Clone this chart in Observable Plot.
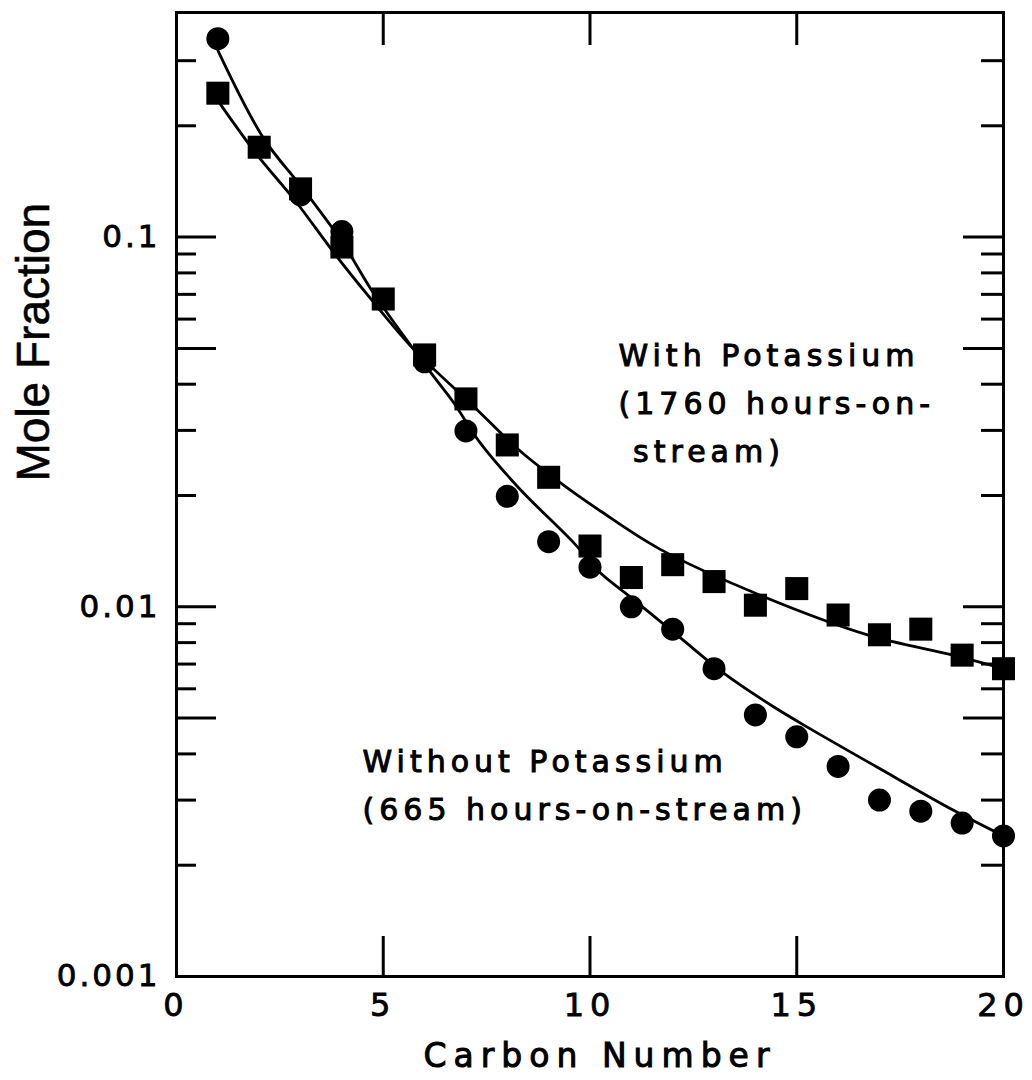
<!DOCTYPE html>
<html>
<head>
<meta charset="utf-8">
<script src="https://cdn.jsdelivr.net/npm/d3@7"></script>
<script src="https://cdn.jsdelivr.net/npm/@observablehq/plot@0.6"></script>
<style>
  body { margin: 0; background: #fff; }
  #chart svg { display: block; }
  #chart svg text { letter-spacing: 5px; stroke: #000; stroke-width: 1px; }
</style>
</head>
<body>
<div id="chart"></div>
<script>
// ---- data ----
const carbonNumbers = [1, 2, 3, 4, 5, 6, 7, 8, 9, 10, 11, 12, 13, 14, 15, 16, 17, 18, 19, 20];
// With potassium (squares)
const withPotassium = [0.245, 0.175, 0.135, 0.094, 0.068, 0.048, 0.0365, 0.0274, 0.0224, 0.0146,
  0.0120, 0.0130, 0.0117, 0.0101, 0.0112, 0.0095, 0.0084, 0.0087, 0.0074, 0.0068];
// Without potassium (circles); null where hidden behind a square
const withoutPotassium = [0.344, null, 0.130, 0.1035, null, 0.046, 0.0299, 0.0199, 0.0150, 0.0128,
  0.0100, 0.0087, 0.0068, 0.0051, 0.00445, 0.0037, 0.0030, 0.0028, 0.0026, 0.0024];
// fitted curves
const withCurveX = [1, 1.93, 2.88, 3.84, 4.62, 5.74, 7.17, 8.29, 9.32, 10.27, 11.7, 14.16, 16.71, 18.78, 20];
const withCurveY = [0.234, 0.168, 0.125, 0.0897, 0.0698, 0.0497, 0.035, 0.0265, 0.0215, 0.0181, 0.0143, 0.0107, 0.0084, 0.0074, 0.0068];
const withoutCurveX = [1, 2.1, 3.05, 4.0, 4.79, 6.15, 6.7, 7.34, 8.29, 9.63, 10.2, 10.99, 12.18, 13.2, 14.4, 15.35, 16.95, 18.78, 20];
const withoutCurveY = [0.32, 0.1855, 0.1355, 0.0972, 0.0698, 0.043, 0.0357, 0.0278, 0.0209, 0.0148, 0.0125, 0.0106, 0.00825, 0.00666, 0.0054, 0.00466, 0.00368, 0.00282, 0.0024];

const xTickValues = [0, 5, 10, 15, 20];
const xInnerTicks = [5, 10, 15];
const yLabelTicks = [0.001, 0.01, 0.1];
const yLabelTexts = ["0.001", "0.01", "0.1"];
const yLongTicks = [0.005, 0.01, 0.05, 0.1];
const yShortTicks = [0.002, 0.003, 0.004, 0.006, 0.007, 0.008, 0.009,
  0.02, 0.03, 0.04, 0.06, 0.07, 0.08, 0.09, 0.2, 0.3];

const xLabel = "Carbon Number";
const yLabel = "Mole Fraction";
const withLabel = "With Potassium\n(1760 hours-on-\n\u00a0stream)";
const withoutLabel = "Without Potassium\n(665 hours-on-stream)";

// ---- tables ----
const squares = carbonNumbers.map((c, i) => ({c, v: withPotassium[i]}));
const circles = carbonNumbers.map((c, i) => ({c, v: withoutPotassium[i]})).filter(d => d.v != null);
const withCurve = withCurveX.map((c, i) => ({c, v: withCurveY[i]}));
const withoutCurve = withoutCurveX.map((c, i) => ({c, v: withoutCurveY[i]}));

const W = 1032, H = 1080;
const mL = 176, mR = 29, mT = 12, mB = 104;
const pw = W - mL - mR, ph = H - mT - mB;

const font = "DejaVu Sans";

const chart = Plot.plot({
  width: W, height: H,
  marginLeft: mL, marginRight: mR, marginTop: mT, marginBottom: mB,
  style: {fontFamily: font, background: "#fff", color: "#000"},
  x: {domain: [0, 20]},
  y: {type: "log", domain: [0.001, 0.405]},
  marks: [
    // inward ticks
    Plot.tickY(yLongTicks, {y: d => d, insetRight: pw - 40, strokeWidth: 3}),
    Plot.tickY(yShortTicks, {y: d => d, insetRight: pw - 20, strokeWidth: 3}),
    Plot.tickY(yLongTicks, {y: d => d, insetLeft: pw - 40, strokeWidth: 3}),
    Plot.tickY(yShortTicks, {y: d => d, insetLeft: pw - 22, strokeWidth: 3}),
    Plot.tickX(xInnerTicks, {x: d => d, insetTop: ph - 40, strokeWidth: 3}),
    Plot.tickX(xInnerTicks, {x: d => d, insetBottom: ph - 33, strokeWidth: 3}),
    Plot.frame({strokeWidth: 3}),
    Plot.axisX(xTickValues, {anchor: "bottom", tickSize: 0, tickPadding: 17, fontSize: 32, label: null}),
    Plot.axisY(yLabelTicks, {anchor: "left", tickSize: 0, tickPadding: 16, fontSize: 31, label: null,
      tickFormat: d => yLabelTexts[yLabelTicks.indexOf(d)]}),
    // curves
    Plot.line(withCurve, {x: "c", y: "v", curve: "catmull-rom", stroke: "black", strokeWidth: 2.8}),
    Plot.line(withoutCurve, {x: "c", y: "v", curve: "catmull-rom", stroke: "black", strokeWidth: 2.8}),
    // points
    Plot.dot(circles, {x: "c", y: "v", r: 11.5, fill: "black", stroke: null}),
    Plot.dot(squares, {x: "c", y: "v", symbol: "square", r: 13, fill: "black", stroke: null}),
    // annotations
    Plot.text([withLabel], {x: 10.69, y: 0.0555, text: d => d, textAnchor: "start", lineAnchor: "top",
      lineHeight: 1.6, fontSize: 30, fill: "black"}),
    Plot.text([withoutLabel], {x: 4.5, y: 0.00443, text: d => d, textAnchor: "start", lineAnchor: "top",
      lineHeight: 1.6, fontSize: 30, fill: "black"}),
    // axis titles
    Plot.text([xLabel], {frameAnchor: "bottom", dy: 90, dx: 10, text: d => d, fontSize: 33, fill: "black"}),
    Plot.text([yLabel], {frameAnchor: "left", dx: -142, dy: -13, rotate: -90, text: d => d,
      fontSize: 46, fontFamily: "Liberation Sans", fill: "black"})
  ]
});

document.getElementById("chart").appendChild(chart);
const svg = d3.select(chart);
svg.selectAll('g[aria-label="x-axis tick label"] text').style("letter-spacing", "6px").style("stroke-width", "0.8px");
svg.selectAll('g[aria-label="y-axis tick label"] text').style("letter-spacing", "3px").style("stroke-width", "0.8px");
svg.selectAll("text").filter(function() { return this.textContent === yLabel; }).style("letter-spacing", "0px").style("stroke-width", "0.6px");
svg.selectAll("text").filter(function() { return this.textContent === xLabel; }).style("letter-spacing", "7px");
</script>
</body>
</html>
